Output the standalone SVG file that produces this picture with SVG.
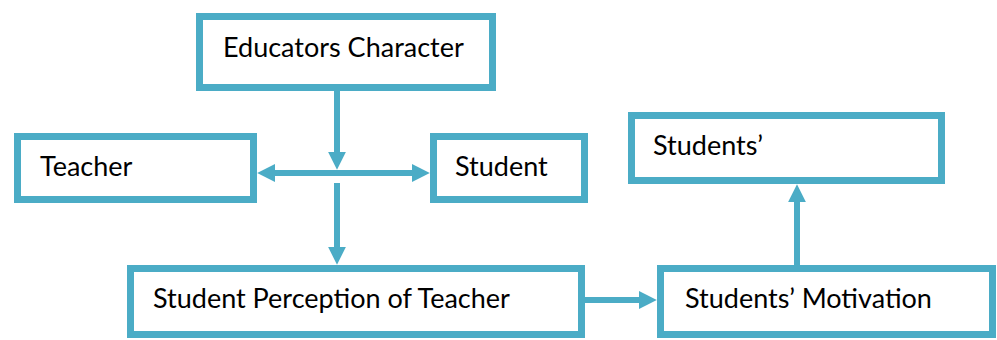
<svg xmlns="http://www.w3.org/2000/svg" width="997" height="340" viewBox="0 0 997 340">
<style>
.box{fill:#fff;stroke:#4BACC6;stroke-width:7}
.lbl{font-family:Lato,"Open Sans","Liberation Sans",sans-serif;font-size:27px;fill:#000}
.con{fill:none;stroke:#4BACC6;stroke-width:6}
</style>
<defs>
<marker id="ah" viewBox="0 0 10 10" refX="4" refY="5" markerWidth="3" markerHeight="3.2" orient="auto-start-reverse">
<path d="M0,0 L10,5 L0,10 z" fill="#4BACC6"/>
</marker>
</defs>
<rect width="997" height="340" fill="#fff"/>
<g id="connectors">
<path class="con" d="M337,91 V159" marker-end="url(#ah)"/>
<path class="con" d="M268,173 H419" marker-start="url(#ah)" marker-end="url(#ah)"/>
<path class="con" d="M337,183 V254" marker-end="url(#ah)"/>
<path class="con" d="M585,300 H646" marker-end="url(#ah)"/>
<path class="con" d="M797,265 V195" marker-end="url(#ah)"/>
</g>
<g id="educators">
<rect class="box" x="199.5" y="16.5" width="293" height="71"/>
<text class="lbl" x="223" y="57">Educators Character</text>
</g>
<g id="teacher">
<rect class="box" x="17.5" y="136.5" width="236" height="63"/>
<text class="lbl" x="40" y="176">Teacher</text>
</g>
<g id="student">
<rect class="box" x="433.5" y="136.5" width="151" height="63"/>
<text class="lbl" x="455" y="176">Student</text>
</g>
<g id="students">
<rect class="box" x="631.5" y="115.5" width="310" height="65"/>
<text class="lbl" x="653" y="155">Students’</text>
</g>
<g id="perception">
<rect class="box" x="130.5" y="268.5" width="451" height="66"/>
<text class="lbl" x="153" y="308">Student Perception of Teacher</text>
</g>
<g id="motivation">
<rect class="box" x="660.5" y="268.5" width="332" height="66"/>
<text class="lbl" x="685" y="308">Students’ Motivation</text>
</g>
</svg>
